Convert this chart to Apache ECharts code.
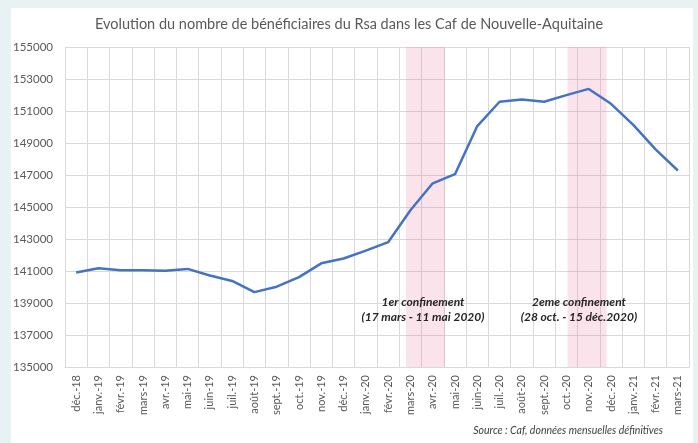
<!DOCTYPE html>
<html>
<head>
<meta charset="utf-8">
<script src="https://cdn.jsdelivr.net/npm/echarts@6/dist/echarts.min.js"></script>
<style>
html,body{margin:0;padding:0;background:#e8f2f3;}
#chart{width:698px;height:443px;}
</style>
</head>
<body>
<div id="chart"></div>
<script>
const titleText = "Evolution du nombre de bénéficiaires du Rsa dans les Caf de Nouvelle-Aquitaine";
const months = ["déc.-18","janv.-19","févr.-19","mars-19","avr.-19","mai-19","juin-19","juil.-19","août-19","sept.-19","oct.-19","nov.-19","déc.-19","janv.-20","févr.-20","mars-20","avr.-20","mai-20","juin-20","juil.-20","août-20","sept.-20","oct.-20","nov.-20","déc.-20","janv.-21","févr.-21","mars-21"];
const beneficiaires = [140900,141170,141050,141050,141010,141130,140720,140380,139680,140020,140620,141480,141780,142270,142800,144800,146480,147050,150060,151580,151720,151580,151990,152380,151450,150130,148600,147280];
const yTicks = {min:135000, max:155000, step:2000};
// confinement periods expressed in fractional month positions on the category scale
const confinements = [
  {start:15.3, end:17.05, label:"1er confinement\n(17 mars - 11 mai 2020)"},
  {start:22.55, end:24.3, label:"2eme confinement\n(28 oct. - 15 déc.2020)"}
];
const sourceText = "Source : Caf, données mensuelles définitives";

const chart = echarts.init(document.getElementById('chart'), null, {renderer:'canvas'});
const F = 'Lato, "Open Sans", sans-serif';
chart.setOption({
  backgroundColor:'#e8f2f3',
  animation:false,
  title:{
    text:titleText, left:'center', top:12,
    textStyle:{fontFamily:F, fontSize:14.5, fontWeight:'normal', color:'#595959'}
  },
  graphic:[
    {type:'rect', left:11, top:8, z:-10, shape:{width:682, height:435}, style:{fill:'#ffffff'}},
    {type:'text', x:423, y:295, z:20, style:{text:confinements[0].label, font:'bold italic 12px '+F, fill:'#262626', textAlign:'center', lineHeight:15}},
    {type:'text', x:579, y:295, z:20, style:{text:confinements[1].label, font:'bold italic 12px '+F, fill:'#262626', textAlign:'center', lineHeight:15}},
    {type:'text', x:663, y:425, z:20, style:{text:sourceText, font:'italic 10.5px '+F, fill:'#404040', textAlign:'right'}}
  ],
  grid:{left:65, right:9, top:47, bottom:76},
  xAxis:[
    {type:'category', data:months, boundaryGap:true,
     axisTick:{show:false},
     axisLine:{lineStyle:{color:'#d9d9d9'}},
     splitLine:{show:true, interval:0, lineStyle:{color:'#d9d9d9', width:1}},
     axisLabel:{rotate:90, interval:0, margin:8, fontFamily:F, fontSize:11, color:'#595959'}},
    {type:'value', min:0, max:months.length, show:false}
  ],
  yAxis:{type:'value', min:yTicks.min, max:yTicks.max, interval:yTicks.step,
    axisLine:{show:false}, axisTick:{show:false},
    splitLine:{lineStyle:{color:'#d9d9d9', width:1}},
    axisLabel:{margin:12, fontFamily:F, fontSize:11.5, color:'#595959', formatter:v=>String(v)}},
  series:[
    {type:'line', data:beneficiaires, symbol:'none', z:3,
     lineStyle:{color:'#4472c4', width:2.5}},
    {type:'line', xAxisIndex:1, data:[], z:10, silent:true,
     markArea:{silent:true, itemStyle:{color:'rgba(230,100,140,0.18)'},
       data:confinements.map(c=>[{xAxis:c.start},{xAxis:c.end}])}}
  ]
});
</script>
</body>
</html>
